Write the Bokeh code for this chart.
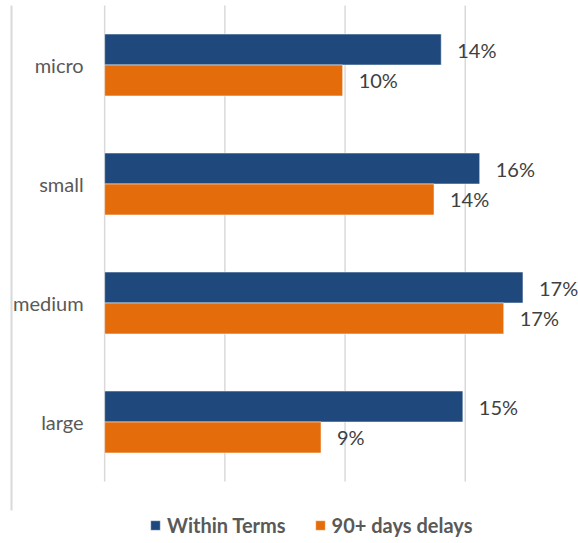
import numpy as np
from bokeh.plotting import figure
from bokeh.models import (ColumnDataSource, Range1d, LinearAxis, FixedTicker,
                          Legend, LegendItem)
from bokeh.core.properties import value
from bokeh.embed import file_html
from bokeh.resources import INLINE

# ---- data ----
categories = ["micro", "small", "medium", "large"]
within_terms = [14.0, 15.6, 17.4, 14.9]
delays_90 = [9.9, 13.7, 16.6, 9.0]
labels_within = ["14%", "16%", "17%", "15%"]
labels_delays = ["10%", "14%", "17%", "9%"]
grid_ticks = [0, 5, 10, 15]

BLUE = "#1F497D"
ORANGE = "#E46C0A"
FONT = "Lato"

idx = np.arange(len(categories))
bar_h = 0.26
src_w = ColumnDataSource(dict(y=idx - bar_h / 2, v=within_terms, lab=labels_within))
src_d = ColumnDataSource(dict(y=idx + bar_h / 2, v=delays_90, lab=labels_delays))
src_c = ColumnDataSource(dict(y=idx, x=np.zeros(len(idx)), cat=categories))
src_g = ColumnDataSource(dict(x=grid_ticks,
                              y0=[-0.5] * len(grid_ticks),
                              y1=[len(categories) - 0.5] * len(grid_ticks)))

p = figure(width=578, height=543, output_backend="svg", toolbar_location=None,
           x_range=Range1d(-3.875, 19.71), y_range=Range1d(4.021, -0.542),
           x_axis_location=None, y_axis_location=None,
           min_border_left=11, min_border_right=0, min_border_top=0,
           min_border_bottom=0)
p.outline_line_color = None
p.xgrid.visible = False
p.ygrid.visible = False

# left border line via an axis without ticks
yax = LinearAxis(ticker=FixedTicker(ticks=[]), axis_line_color="#D9D9D9",
                 axis_line_width=2, major_tick_out=0, major_tick_in=0,
                 minor_tick_out=0, minor_tick_in=0, major_label_standoff=0,
                 major_label_text_font_size="0px", bounds=(-0.5, 3.744))
p.add_layout(yax, "left")

# gridlines
p.segment(x0="x", x1="x", y0="y0", y1="y1", source=src_g,
          line_color="#D9D9D9", line_width=1.5)

r1 = p.hbar(y="y", right="v", left=0, height=bar_h, source=src_w,
            fill_color=BLUE, line_color="white", line_width=0.5)
r2 = p.hbar(y="y", right="v", left=0, height=bar_h, source=src_d,
            fill_color=ORANGE, line_color="white", line_width=0.5)

# value labels
for s in (src_w, src_d):
    p.text(x="v", y="y", text="lab", source=s, x_offset=16,
           text_align="left", text_baseline="middle",
           text_font=value(FONT), text_font_size="20px", text_color="#404040")

# category labels
p.text(x="x", y="y", text="cat", source=src_c, x_offset=-21,
       text_align="right", text_baseline="middle",
       text_font=value(FONT), text_font_size="20px", text_color="#595959")

legend = Legend(items=[LegendItem(label="Within Terms", renderers=[r1]),
                       LegendItem(label="90+ days delays", renderers=[r2])],
                orientation="horizontal", location=(138, 6),
                label_text_font=FONT, label_text_font_style="bold",
                label_text_font_size="20px", label_text_color="#595959",
                glyph_width=12, glyph_height=12, label_standoff=6,
                spacing=28, padding=0, margin=0, border_line_color=None,
                background_fill_alpha=0, label_height=20)
p.add_layout(legend, "center")

open("out.html", "w").write(file_html(p, INLINE))
